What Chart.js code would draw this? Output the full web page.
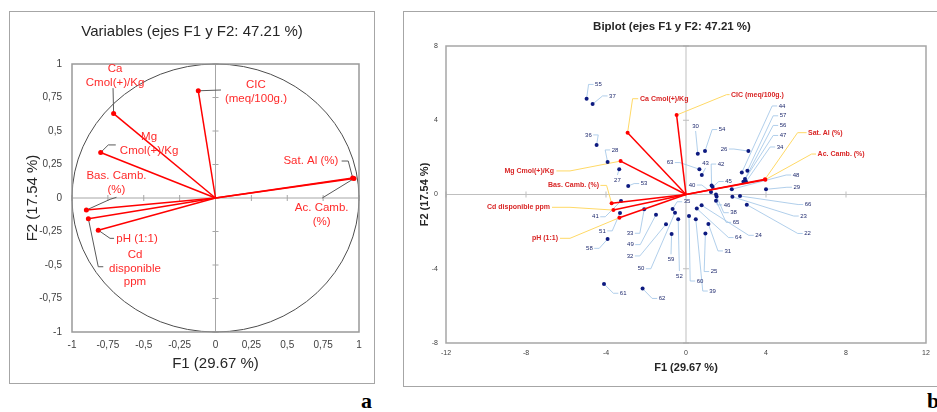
<!DOCTYPE html>
<html>
<head>
<meta charset="utf-8">
<script src="https://cdn.jsdelivr.net/npm/chart.js@4.4.1/dist/chart.umd.min.js"></script>
<style>
  body { margin: 0; background: #fff; width: 937px; height: 412px; overflow: hidden; position: relative; }
  canvas { display: block; }
  .box { position: absolute; border: 1px solid #a6a6a6; }
  #boxA { left: 9px; top: 11px; width: 364px; height: 371px; }
  #boxB { left: 403px; top: 11px; width: 540px; height: 374px; }
  .tag { position: absolute; font: bold 22px "Liberation Serif", "Times New Roman", serif; line-height: 22px; }
</style>
</head>
<body>
<div class="box" id="boxA"><canvas id="chartA" width="364" height="371"></canvas></div>
<div class="box" id="boxB"><canvas id="chartB" width="538" height="374"></canvas></div>
<div class="tag" style="left:361px;top:390px">a</div>
<div class="tag" style="left:927px;top:390px">b</div>
<script>
//Data: variables (a = correlation circle, b = biplot)
var variables = ['Ca Cmol(+)/Kg', 'CIC (meq/100g.)', 'Mg Cmol(+)/Kg', 'Sat. Al (%)', 'Ac. Camb. (%)', 'Bas. Camb. (%)', 'Cd disponible ppm', 'pH (1:1)'];
var corrF1 = [-0.71, -0.12, -0.80, 0.956, 0.965, -0.90, -0.886, -0.817];
var corrF2 = [0.63, 0.80, 0.34, 0.15, 0.145, -0.09, -0.154, -0.24];
var biF1 = [-2.92, -0.47, -3.27, 3.95, 3.97, -3.72, -3.63, -3.33];
var biF2 = [3.33, 4.28, 1.80, 0.82, 0.80, -0.47, -0.84, -1.25];

//Data: observations
var obsNames = ['55', '37', '36', '28', '27', '53', '63', '30', '54', '43', '42', '26', '40', '45', '44', '57', '56', '47', '34', '48', '29', '66', '23', '22', '46', '38', '65', '64', '24', '31', '25', '39', '60', '52', '59', '50', '35', '32', '49', '33', '51', '41', '58', '61', '62'];
var obsF1 = [-4.97, -4.67, -4.47, -3.92, -3.34, -2.89, 0.67, 0.59, 0.95, 0.79, 1.28, 3.12, 1.25, 1.33, 2.79, 3.07, 2.95, 2.87, 3.00, 2.29, 4.00, 2.70, 2.32, 3.04, 1.50, 1.53, 1.50, 0.54, 0.78, 1.12, 0.97, 0.49, 0.15, -0.39, -0.72, -0.55, -0.67, -1.00, -1.50, -2.09, -3.30, -3.25, -3.92, -4.10, -2.17];
var obsF2 = [5.16, 4.87, 2.67, 1.75, 1.36, 0.46, 1.36, 2.20, 2.34, 1.05, 0.49, 2.34, 0.13, 0.40, 1.18, 1.28, 0.84, 0.69, 0.69, 0.28, 0.28, -0.08, -0.12, -0.55, 0.00, -0.11, -0.33, -0.76, -0.58, -1.59, -2.10, -1.34, -1.16, -1.34, -2.13, -0.98, -0.78, -1.60, -1.09, -0.80, -0.99, -0.35, -2.40, -4.82, -5.07];

//Tick labels
var ticksA = [-1, -0.75, -0.5, -0.25, 0, 0.25, 0.5, 0.75, 1];
var ticksBx = [-12, -8, -4, 0, 4, 8, 12];
var ticksBy = [-8, -4, 0, 4, 8];

var titleA = 'Variables (ejes F1 y F2: 47.21 %)';
var titleB = 'Biplot (ejes F1 y F2: 47.21 %)';
var axisF1 = 'F1 (29.67 %)';
var axisF2 = 'F2 (17.54 %)';

//Label placement (not data)
var linesA = [['Ca', 'Cmol(+)/Kg'], ['CIC', '(meq/100g.)'], ['Mg', 'Cmol(+)/Kg'], ['Sat. Al (%)'], ['Ac. Camb.', '(%)'], ['Bas. Camb.', '(%)'], ['Cd', 'disponible', 'ppm'], ['pH (1:1)']];
var labelPosA = [[-0.70, 0.963], [0.282, 0.843], [-0.463, 0.455], [0.665, 0.276], [0.74, -0.077], [-0.69, 0.164], [-0.561, -0.425], [-0.547, -0.308]];
var leaderA = [
    [[-0.714, 0.82]],
    [[0.038, 0.806]],
    [[-0.747, 0.396], [-0.695, 0.396]],
    [[0.925, 0.276], [0.879, 0.276]],
    [[0.744, 0.0]],
    [[-0.735, -0.01], [-0.69, 0.005]],
    [[-0.817, -0.513], [-0.782, -0.513]],
    [[-0.735, -0.301], [-0.707, -0.301]]
];
var labelPosB = [[-2.3, 5.16], [2.25, 5.38], [-6.6, 1.27], [6.1, 3.33], [6.58, 2.18], [-4.35, 0.49], [-6.8, -0.69], [-6.4, -2.36]];
var alignB = ['left', 'left', 'right', 'left', 'left', 'right', 'right', 'right'];
var leaderB = [
    [[-2.67, 5.16], [-2.39, 5.16]],
    [[2.03, 5.38], [2.18, 5.38]],
    [[-5.8, 1.27], [-6.48, 1.27]],
    [[5.58, 3.33], [6.03, 3.33]],
    [[6.28, 2.18], [6.5, 2.18]],
    [[-3.97, 0.49], [-4.28, 0.49]],
    [[-5.8, -0.69], [-6.7, -0.69]],
    [[-5.8, -2.36], [-6.3, -2.36]]
];
var obsLabX = [-4.38, -3.68, -4.88, -3.55, -3.43, -2.10, -0.80, 0.48, 1.80, 0.98, 1.75, 1.90, 0.30, 2.13, 4.80, 4.85, 4.85, 4.85, 4.70, 5.50, 5.54, 6.10, 5.88, 6.08, 2.05, 2.38, 2.50, 2.62, 3.63, 2.09, 1.40, 1.33, 0.70, -0.33, -0.75, -2.25, 0.05, -2.80, -2.78, -2.80, -4.18, -4.53, -4.83, -3.14, -1.20];
var obsLabY = [5.93, 5.31, 3.21, 2.40, 0.78, 0.59, 1.72, 3.69, 3.50, 1.70, 1.64, 2.45, 0.51, 0.70, 4.77, 4.24, 3.72, 3.18, 2.56, 1.05, 0.39, -0.54, -1.16, -2.10, -0.56, -0.98, -1.50, -2.32, -2.20, -3.04, -4.15, -5.20, -4.66, -4.39, -3.49, -4.00, -0.39, -3.31, -2.70, -2.09, -1.96, -1.20, -2.90, -5.32, -5.60];

var FONT = '"Liberation Sans", Arial, sans-serif';
Chart.defaults.font.family = FONT;

function vectorSets(xs, ys, r) {
    return xs.map(function (v, i) {
        return {
            label: variables[i],
            data: [{x: 0, y: 0}, {x: v, y: ys[i]}],
            showLine: true,
            borderColor: '#ff0000',
            backgroundColor: '#ff0000',
            borderWidth: 1.5,
            pointRadius: [0, r],
            pointBorderWidth: 0
        };
    });
}

function axis(min, max, ticks, size, pad, fit) {
    return {
        type: 'linear', min: min, max: max,
        grid: {display: false, drawTicks: false},
        border: {display: false},
        afterBuildTicks: function (s) { s.ticks = ticks.map(function (v) { return {value: v}; }); },
        ticks: {
            font: {size: size}, color: '#404040', padding: pad, maxRotation: 0, autoSkip: false,
            callback: function (v) { return String(v).replace('.', ','); }
        },
        afterFit: fit
    };
}

function path(c, sx, sy, x, y, pts) {
    c.beginPath();
    c.moveTo(sx.getPixelForValue(x), sy.getPixelForValue(y));
    pts.forEach(function (p) { c.lineTo(sx.getPixelForValue(p[0]), sy.getPixelForValue(p[1])); });
    c.stroke();
}

function centerAxes(c, chart, ticksX, ticksY, col) {
    var a = chart.chartArea, sx = chart.scales.x, sy = chart.scales.y;
    var x0 = sx.getPixelForValue(0), y0 = sy.getPixelForValue(0);
    c.strokeStyle = col; c.lineWidth = 1;
    c.beginPath();
    c.moveTo(a.left, y0); c.lineTo(a.right, y0);
    c.moveTo(x0, a.top); c.lineTo(x0, a.bottom);
    ticksX.forEach(function (v) { var p = sx.getPixelForValue(v); c.moveTo(p, y0 - 3); c.lineTo(p, y0 + 3); });
    ticksY.forEach(function (v) { var p = sy.getPixelForValue(v); c.moveTo(x0 - 3, p); c.lineTo(x0 + 3, p); });
    c.stroke();
}

function axisTitles(c, chart, font, ty, tx) {
    var a = chart.chartArea;
    c.font = font; c.fillStyle = '#262626'; c.textAlign = 'center'; c.textBaseline = 'middle';
    c.fillText(axisF1, (a.left + a.right) / 2, ty);
    c.save();
    c.translate(tx, (a.top + a.bottom) / 2);
    c.rotate(-Math.PI / 2);
    c.fillText(axisF2, 0, 0);
    c.restore();
}

//Panel a extras
var decorA = {
    id: 'decorA',
    beforeDatasetsDraw: function (chart) {
        var c = chart.ctx, a = chart.chartArea, sx = chart.scales.x, sy = chart.scales.y;
        var x0 = sx.getPixelForValue(0), y0 = sy.getPixelForValue(0);
        c.save();
        centerAxes(c, chart, ticksA, ticksA, '#a6a6a6');
        c.strokeStyle = '#4d4d4d'; c.lineWidth = 1;
        c.beginPath();
        c.ellipse(x0, y0, sx.getPixelForValue(1) - x0, y0 - sy.getPixelForValue(1), 0, 0, 2 * Math.PI);
        c.stroke();
        c.strokeStyle = '#999'; c.lineWidth = 1.5;
        c.strokeRect(a.left, a.top, a.width, a.height);
        c.strokeStyle = '#595959'; c.lineWidth = 1;
        leaderA.forEach(function (pts, i) { path(c, sx, sy, corrF1[i], corrF2[i], pts); });
        c.restore();
    },
    afterDatasetsDraw: function (chart) {
        var c = chart.ctx, sx = chart.scales.x, sy = chart.scales.y;
        c.save();
        c.font = '11.5px ' + FONT; c.fillStyle = '#ff2a2a'; c.textAlign = 'center'; c.textBaseline = 'middle';
        linesA.forEach(function (ls, i) {
            var x = sx.getPixelForValue(labelPosA[i][0]), y = sy.getPixelForValue(labelPosA[i][1]);
            ls.forEach(function (t, k) { c.fillText(t, x, y + k * 13.5); });
        });
        c.restore();
    },
    afterDraw: function (chart) {
        var c = chart.ctx;
        c.save();
        axisTitles(c, chart, '15px ' + FONT, 352, 22.5);
        c.fillText(titleA, 182, 20);
        c.restore();
    }
};

//Panel b extras
function obsLeader(c, x, y, lx, ly, w) {
    c.beginPath();
    c.moveTo(x, y);
    if (Math.abs(lx - x) < w / 2 + 3) {
        c.lineTo(lx, ly + (ly > y ? -5 : 5));
    } else {
        var s = lx > x ? -1 : 1, e = lx + s * (w / 2 + 1.5);
        c.lineTo(e + s * 5, ly);
        c.lineTo(e, ly);
    }
    c.stroke();
}

var decorB = {
    id: 'decorB',
    beforeDatasetsDraw: function (chart) {
        var c = chart.ctx, a = chart.chartArea, sx = chart.scales.x, sy = chart.scales.y;
        c.save();
        centerAxes(c, chart, ticksBx, ticksBy, '#bfbfbf');
        c.strokeStyle = '#a6a6a6'; c.lineWidth = 1.5;
        c.strokeRect(a.left, a.top, a.width, a.height);
        c.font = '6px ' + FONT;
        c.strokeStyle = '#9dc3e6'; c.lineWidth = 0.8;
        obsNames.forEach(function (n, i) {
            obsLeader(c, sx.getPixelForValue(obsF1[i]), sy.getPixelForValue(obsF2[i]),
                sx.getPixelForValue(obsLabX[i]), sy.getPixelForValue(obsLabY[i]), c.measureText(n).width);
        });
        c.strokeStyle = '#ffd966'; c.lineWidth = 1;
        leaderB.forEach(function (pts, i) { path(c, sx, sy, biF1[i], biF2[i], pts); });
        c.restore();
    },
    afterDatasetsDraw: function (chart) {
        var c = chart.ctx, sx = chart.scales.x, sy = chart.scales.y;
        c.save();
        c.textBaseline = 'middle';
        c.font = '6px ' + FONT; c.fillStyle = '#1f2a6e'; c.textAlign = 'center';
        obsNames.forEach(function (n, i) {
            c.fillText(n, sx.getPixelForValue(obsLabX[i]), sy.getPixelForValue(obsLabY[i]));
        });
        c.font = 'bold 7px ' + FONT; c.fillStyle = '#d92626';
        variables.forEach(function (n, i) {
            c.textAlign = alignB[i];
            c.fillText(n, sx.getPixelForValue(labelPosB[i][0]), sy.getPixelForValue(labelPosB[i][1]));
        });
        c.restore();
    },
    afterDraw: function (chart) {
        var c = chart.ctx;
        c.save();
        axisTitles(c, chart, 'bold 11px ' + FONT, 356, 21);
        c.font = 'bold 11.5px ' + FONT;
        c.fillText(titleB, 268, 15);
        c.restore();
    }
};

var common = {
    responsive: false,
    animation: false,
    plugins: {legend: {display: false}, tooltip: {enabled: false}, title: {display: false}}
};

var chartA = new Chart(document.getElementById('chartA').getContext('2d'), {
    type: 'scatter',
    data: {datasets: vectorSets(corrF1, corrF2, 2.5)},
    options: Object.assign({}, common, {
        layout: {padding: {top: 52, right: 15, left: 0, bottom: 0}},
        scales: {
            x: axis(-1, 1, ticksA, 10, 7, function (s) { s.height = 51; }),
            y: axis(-1, 1, ticksA, 10, 10, function (s) { s.width = 62; })
        }
    }),
    plugins: [decorA]
});

var obsSet = {
    label: 'Observaciones',
    data: obsF1.map(function (v, i) { return {x: v, y: obsF2[i]}; }),
    backgroundColor: '#0d1a80',
    borderWidth: 0,
    pointRadius: 2
};

var chartB = new Chart(document.getElementById('chartB').getContext('2d'), {
    type: 'scatter',
    data: {datasets: vectorSets(biF1, biF2, 2).concat([obsSet])},
    options: Object.assign({}, common, {
        layout: {padding: {top: 34, right: 16, left: 0, bottom: 0}},
        scales: {
            x: axis(-12, 12, ticksBx, 7, 6, function (s) { s.height = 43; }),
            y: axis(-8, 8, ticksBy, 7, 8, function (s) { s.width = 42; })
        }
    }),
    plugins: [decorB]
});
</script>
</body>
</html>
